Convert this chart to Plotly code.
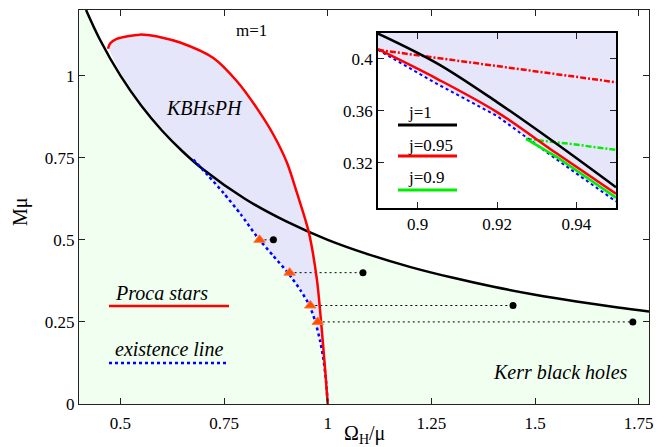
import plotly.graph_objects as go

# ---------------- data ----------------
# extremal Kerr line (M mu vs Omega_H/mu)
kerr_w = [0.417, 0.45, 0.5, 0.55, 0.6, 0.65, 0.7, 0.8, 0.9, 1.0, 1.1, 1.2, 1.3, 1.4, 1.5, 1.6, 1.7, 1.775]
kerr_m = [1.2, 1.111, 1.0, 0.909, 0.833, 0.769, 0.714, 0.625, 0.556, 0.5, 0.455, 0.417, 0.385, 0.357, 0.333, 0.3125, 0.294, 0.282]

# Proca stars (red)
ps_w = [0.470, 0.475, 0.491, 0.547, 0.604, 0.644, 0.724, 0.781, 0.829, 0.869, 0.902, 0.926, 0.954, 0.974, 0.984, 0.994, 1.0]
ps_m = [1.082, 1.098, 1.112, 1.125, 1.115, 1.101, 1.054, 0.983, 0.901, 0.820, 0.734, 0.642, 0.525, 0.378, 0.25, 0.10, 0.0]

# existence line (blue dotted)
ex_w = [0.676, 0.712, 0.749, 0.79, 0.829, 0.868, 0.905, 0.934, 0.956, 0.970, 0.982, 0.99, 0.996, 1.0]
ex_m = [0.744, 0.695, 0.642, 0.578, 0.51, 0.452, 0.398, 0.347, 0.30, 0.251, 0.19, 0.134, 0.07, 0.0]

# upper-left edge of the KBHsPH shaded domain
edge_w = [0.676, 0.65, 0.6, 0.55, 0.5, 0.472]
edge_m = [0.744, 0.772, 0.84, 0.918, 1.01, 1.082]

# sample solutions: hairy BH (triangles) and Kerr BH with same M, J (dots)
tri_w = [0.8355, 0.908, 0.958, 0.976]
dot_w = [0.869, 1.085, 1.447, 1.736]
pair_m = [0.5, 0.4, 0.3, 0.25]

# inset
in_w = [0.89, 0.905, 0.92, 0.935, 0.95]
in_j1 = [0.4196, 0.3964, 0.3667, 0.3345, 0.301]
in_j095 = [0.4075, 0.3845, 0.3590, 0.3272, 0.2960]
in_ex = [0.4070, 0.3805, 0.3560, 0.3225, 0.2900]
in_j09_w = [0.9273, 0.935, 0.95]
in_j09_m = [0.3383, 0.3245, 0.2930]
in_ps095_w = [0.89, 0.90, 0.916, 0.935, 0.95]
in_ps095_m = [0.407, 0.4028, 0.3961, 0.3882, 0.382]
in_ps09_w = [0.9273, 0.9387, 0.95]
in_ps09_m = [0.3383, 0.3344, 0.3298]

x_ticks = [0.5, 0.75, 1, 1.25, 1.5, 1.75]
x_labels = ["0.5", "0.75", "1", "1.25", "1.5", "1.75"]
y_ticks = [0, 0.25, 0.5, 0.75, 1]
y_labels = ["0", "0.25", "0.5", "0.75", "1"]
in_x_ticks = [0.9, 0.92, 0.94]
in_x_labels = ["0.9", "0.92", "0.94"]
in_y_ticks = [0.32, 0.36, 0.4]
in_y_labels = ["0.32", "0.36", "0.4"]

XR = [0.4, 1.775]
YR = [0.0, 1.2]
IXR = [0.89, 0.95]
IYR = [0.285, 0.42]

# ---------------- styles ----------------
FONT = "Liberation Serif, Times New Roman, serif"
GREEN_FILL = "#f0fff0"
BLUE_FILL = "#e6e6fa"
RED = "#ff0000"
BLUE = "#0000ff"
GREEN = "#00ee00"
TRI = "#ff5000"

fig = go.Figure()

# green Kerr region (below the extremal Kerr line)
fig.add_trace(go.Scatter(
    x=[XR[0], XR[0]] + kerr_w + [XR[1]],
    y=[YR[0], YR[1]] + kerr_m + [YR[0]],
    mode="lines", fill="toself", fillcolor=GREEN_FILL,
    line=dict(width=0), hoverinfo="skip", showlegend=False))

# KBHsPH domain
fig.add_trace(go.Scatter(
    x=ps_w + ex_w[::-1] + edge_w[1:],
    y=ps_m + ex_m[::-1] + edge_m[1:],
    mode="lines", fill="toself", fillcolor=BLUE_FILL,
    line=dict(width=0, shape="spline"), hoverinfo="skip", showlegend=False))

# dotted connectors
for i in range(len(pair_m)):
    fig.add_trace(go.Scatter(
        x=[tri_w[i], dot_w[i]], y=[pair_m[i], pair_m[i]],
        mode="lines", line=dict(color="black", width=1, dash="2px,3px"),
        hoverinfo="skip", showlegend=False))

# Kerr line
fig.add_trace(go.Scatter(x=kerr_w, y=kerr_m, mode="lines",
                         line=dict(color="black", width=2.5, shape="spline"),
                         showlegend=False))
# existence line
fig.add_trace(go.Scatter(x=ex_w, y=ex_m, mode="lines",
                         line=dict(color=BLUE, width=2.5, dash="dot", shape="spline", smoothing=0.6),
                         showlegend=False))
# Proca stars
fig.add_trace(go.Scatter(x=ps_w, y=ps_m, mode="lines",
                         line=dict(color=RED, width=2.5, shape="spline", smoothing=0.8),
                         showlegend=False))
# markers
fig.add_trace(go.Scatter(x=tri_w, y=pair_m, mode="markers",
                         marker=dict(symbol="triangle-up", size=10, color=TRI,
                                     line=dict(color="#ff7a40", width=1)),
                         showlegend=False))
fig.add_trace(go.Scatter(x=dot_w, y=pair_m, mode="markers",
                         marker=dict(symbol="circle", size=7, color="black"),
                         showlegend=False))

# ---------------- inset ----------------
fig.add_trace(go.Scatter(
    x=in_w + [IXR[1], IXR[0]], y=in_ex + [IYR[1], IYR[1]],
    mode="lines", fill="toself", fillcolor=BLUE_FILL, line=dict(width=0),
    xaxis="x2", yaxis="y2", hoverinfo="skip", showlegend=False))
fig.add_trace(go.Scatter(x=in_ps095_w, y=in_ps095_m, mode="lines",
                         line=dict(color=RED, width=2.5, dash="6px,2px,2px,2px"),
                         xaxis="x2", yaxis="y2", showlegend=False))
fig.add_trace(go.Scatter(x=in_ps09_w, y=in_ps09_m, mode="lines",
                         line=dict(color=GREEN, width=2.5, dash="6px,2px,2px,2px"),
                         xaxis="x2", yaxis="y2", showlegend=False))
fig.add_trace(go.Scatter(x=in_w, y=in_ex, mode="lines",
                         line=dict(color=BLUE, width=2, dash="dot"),
                         xaxis="x2", yaxis="y2", showlegend=False))
fig.add_trace(go.Scatter(x=in_j09_w, y=in_j09_m, mode="lines",
                         line=dict(color=GREEN, width=2.5),
                         xaxis="x2", yaxis="y2", showlegend=False))
fig.add_trace(go.Scatter(x=in_w, y=in_j095, mode="lines",
                         line=dict(color=RED, width=2.5, shape="spline"),
                         xaxis="x2", yaxis="y2", showlegend=False))
fig.add_trace(go.Scatter(x=in_w, y=in_j1, mode="lines",
                         line=dict(color="black", width=2.5, shape="spline"),
                         xaxis="x2", yaxis="y2", showlegend=False))

# ---------------- layout ----------------
W, H = 668, 447
L, R, T, B = 79, 19, 10, 43
PW, PH = W - L - R, H - T - B


def px(xp):
    return (xp - L) / PW


def py(yp):
    return (H - B - yp) / PH


axis_common = dict(showgrid=False, zeroline=False, showline=True, mirror="ticks",
                   ticks="inside", ticklen=6, tickcolor="#222", linecolor="#222",
                   linewidth=1, tickfont=dict(family=FONT, size=17, color="black"))

fig.update_layout(
    width=W, height=H,
    margin=dict(l=L, r=R, t=T, b=B),
    paper_bgcolor="white", plot_bgcolor="white",
    font=dict(family=FONT, size=17, color="black"),
    xaxis=dict(range=XR, tickvals=x_ticks, ticktext=x_labels, ticklabelstandoff=4, **axis_common),
    yaxis=dict(range=YR, tickvals=y_ticks, ticktext=y_labels, **axis_common),
    xaxis2=dict(domain=[px(378), px(616)], anchor="y2", range=IXR,
                tickvals=in_x_ticks, ticktext=in_x_labels,
                **{**axis_common, "linewidth": 1.5, "linecolor": "black"}),
    yaxis2=dict(domain=[py(208), py(33)], anchor="x2", range=IYR,
                tickvals=in_y_ticks, ticktext=in_y_labels,
                **{**axis_common, "linewidth": 1.5, "linecolor": "black"}),
)

ann = []
def text(x, y, s, size=20, italic=True, xanchor="center", angle=0):
    ann.append(dict(x=x, y=y, xref="paper", yref="paper", text=s, showarrow=False,
                    xanchor=xanchor, yanchor="middle", textangle=angle,
                    font=dict(family=FONT, size=size, color="black",
                              style="italic" if italic else "normal")))

text(px(364), py(434), "Ω<sub>H</sub>/μ", size=20, italic=False)
text(px(20), py(212), "Mμ", size=20, italic=False, angle=-90)
text(px(204), py(108), "KBHsPH")
text(px(560), py(372), "Kerr black holes")
text(px(251), py(31), "m=1", size=17, italic=False)
text(px(113), py(293), "Proca stars", xanchor="left")
text(px(113), py(349), "existence line", xanchor="left")
text(px(406), py(112), "j=1", size=17, italic=False, xanchor="left")
text(px(406), py(145), "j=0.95", size=17, italic=False, xanchor="left")
text(px(406), py(177), "j=0.9", size=17, italic=False, xanchor="left")
fig.update_layout(annotations=ann)

shapes = []
def seg(x0, x1, y, color, width, dash="solid"):
    shapes.append(dict(type="line", xref="paper", yref="paper",
                       x0=px(x0), x1=px(x1), y0=py(y), y1=py(y),
                       line=dict(color=color, width=width, dash=dash)))

seg(109, 229, 306, RED, 2.5)
seg(109, 229, 363, BLUE, 2.5, "dot")
seg(398, 457, 125, "black", 3)
seg(398, 457, 156, RED, 3)
seg(398, 457, 190, GREEN, 3)
fig.update_layout(shapes=shapes)

fig.write_html("out.html")
